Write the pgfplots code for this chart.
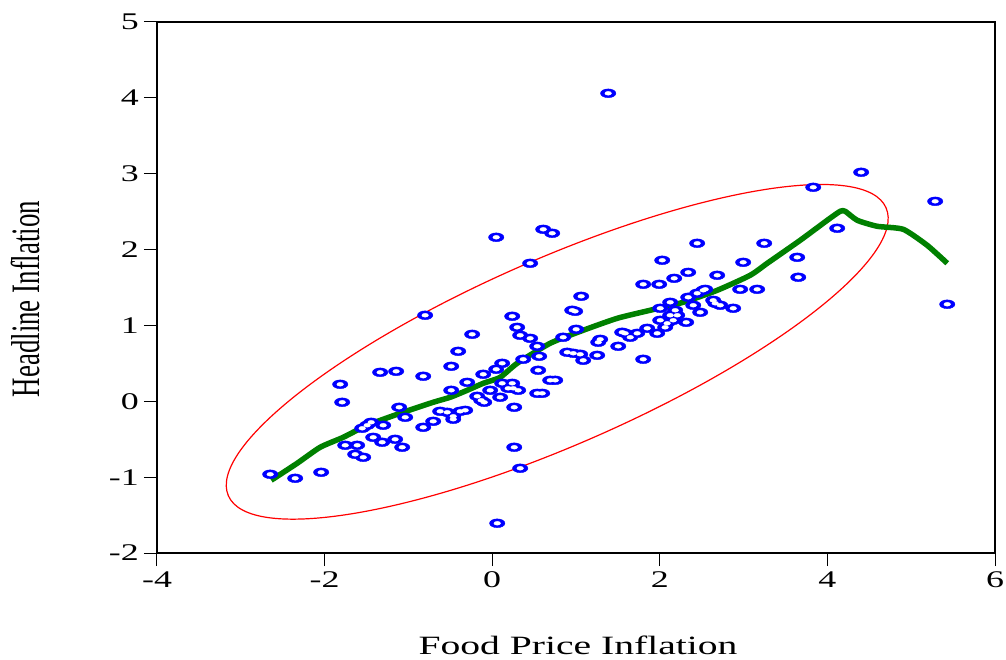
\documentclass[border=0pt]{standalone}
\usepackage{fontspec}
\setmainfont{Liberation Serif}
\usepackage{pgfplots}
\usepackage{pgfplotstable}
\usepackage{graphicx}
\pgfplotsset{compat=1.18}
\definecolor{fitgreen}{RGB}{0,128,0}
\definecolor{ptblue}{RGB}{0,0,255}
\definecolor{ellred}{RGB}{255,0,0}

\pgfplotstableread{
x y
-2.649 -0.962
-2.351 -1.015
-2.041 -0.936
-1.814 0.224
-1.790 -0.013
-1.754 -0.580
-1.611 -0.580
-1.635 -0.699
-1.539 -0.738
-1.551 -0.356
-1.492 -0.316
-1.444 -0.277
-1.420 -0.475
-1.313 -0.540
-1.301 -0.316
-1.158 -0.501
-1.074 -0.606
-1.337 0.382
-1.146 0.395
-1.110 -0.079
-1.038 -0.211
-0.823 0.330
-0.800 1.134
-0.823 -0.343
-0.704 -0.264
-0.621 -0.132
-0.537 -0.145
-0.465 -0.198
-0.465 -0.237
-0.382 -0.132
-0.322 -0.119
-0.489 0.145
-0.489 0.461
-0.406 0.659
-0.298 0.250
-0.239 0.883
-0.179 0.066
-0.131 0.013
-0.095 -0.013
-0.107 0.356
-0.024 0.145
0.048 0.422
0.119 0.501
0.060 -1.608
0.048 2.162
0.119 0.237
0.239 0.237
0.251 0.171
0.310 0.145
0.191 0.171
0.095 0.053
0.263 -0.079
0.263 -0.606
0.334 -0.883
0.334 0.870
0.453 0.830
0.537 0.725
0.370 0.554
0.561 0.593
0.549 0.409
0.239 1.121
0.298 0.975
0.537 0.105
0.597 0.105
0.692 0.277
0.752 0.277
0.847 0.844
0.895 0.646
1.002 0.949
0.955 1.200
0.990 1.186
1.062 1.384
0.453 1.819
0.609 2.267
0.716 2.215
1.289 0.817
1.265 0.778
1.504 0.725
1.551 0.910
1.587 0.896
1.647 0.844
1.730 0.896
1.850 0.962
1.969 0.896
2.005 1.068
2.088 1.028
2.160 1.068
2.124 1.134
2.208 1.134
2.315 1.041
2.005 1.226
2.124 1.305
2.184 1.200
2.339 1.371
2.446 1.424
2.518 1.463
2.399 1.266
2.482 1.173
2.637 1.331
2.661 1.292
0.967 0.633
1.050 0.620
1.086 0.540
1.253 0.606
1.802 0.554
1.802 1.542
1.993 1.542
2.172 1.621
2.339 1.700
2.029 1.859
2.685 1.661
2.446 2.083
3.246 2.083
2.995 1.832
3.640 1.898
2.959 1.476
3.162 1.476
2.542 1.476
2.721 1.266
2.876 1.226
2.064 0.975
3.652 1.635
4.403 3.019
3.831 2.821
5.286 2.636
4.117 2.281
5.430 1.279
1.384 4.060
}\scatterdata

\begin{document}
\begin{tikzpicture}
\useasboundingbox (-157bp,-107bp) rectangle (849bp,553bp);
\begin{axis}[
  at={(0,0)}, anchor=south west,
  scale only axis, width=838bp, height=531bp,
  xmin=-4, xmax=6, ymin=-2, ymax=5,
  xtick={-4,-2,0,2,4,6}, xticklabels={-4,-2,0,2,4,6},
  ytick={-2,-1,0,1,2,3,4,5}, yticklabels={-2,-1,0,1,2,3,4,5},
  minor tick num=0,
  tick align=outside, xtick pos=left, ytick pos=left,
  major tick length=13bp,
  tick style={black, line width=1bp},
  axis line style={black, line width=1.6bp},
  ticklabel style={font=\fontsize{24}{24}\selectfont, xscale=1.5},
  xticklabel style={yshift=-2bp},
  xlabel={\fontsize{26.5}{26.5}\selectfont\scalebox{1.5}[1]{Food Price Inflation}},
  ylabel={\fontsize{27}{27}\selectfont\scalebox{1.5}[1]{\rotatebox{90}{Headline Inflation}}},
  every axis x label/.style={at={(rel axis cs:0.5,0)}, yshift=-92bp, xshift=2bp, anchor=center},
  every axis y label/.style={at={(rel axis cs:0,0.5)}, xshift=-132bp, yshift=-11.5bp, anchor=center},
]
\draw[ellred, line width=1.2bp, rotate around={23.65:(axis cs:0.776,0.652)}]
  (axis cs:0.776,0.652) ellipse [x radius=359bp, y radius=93bp];
\addplot[only marks, mark=*, ptblue, mark size=4.4bp,
  mark options={draw=none, fill=ptblue, xscale=1.75}] table[x=x,y=y] {\scatterdata};
\addplot[only marks, mark=*, white, mark size=1.9bp,
  mark options={draw=none, fill=white, xscale=1.75}] table[x=x,y=y] {\scatterdata};
\addplot[fitgreen, line width=5.5bp, no marks, line join=round, smooth, tension=0.35] coordinates {
(-2.637,-1.041) (-2.327,-0.817) (-2.053,-0.606) (-1.778,-0.475) (-1.492,-0.316)
(-1.098,-0.158) (-0.704,-0.013) (-0.501,0.053) (-0.298,0.145) (-0.107,0.237)
(0.095,0.316) (0.298,0.501) (0.692,0.765) (1.086,0.936) (1.492,1.094)
(1.885,1.200) (2.279,1.305) (2.685,1.463) (3.079,1.661) (3.282,1.819)
(3.675,2.122) (3.998,2.386) (4.153,2.505) (4.212,2.505) (4.356,2.386)
(4.594,2.307) (4.905,2.267) (5.191,2.056) (5.430,1.819)
};
\end{axis}
\end{tikzpicture}
\end{document}
